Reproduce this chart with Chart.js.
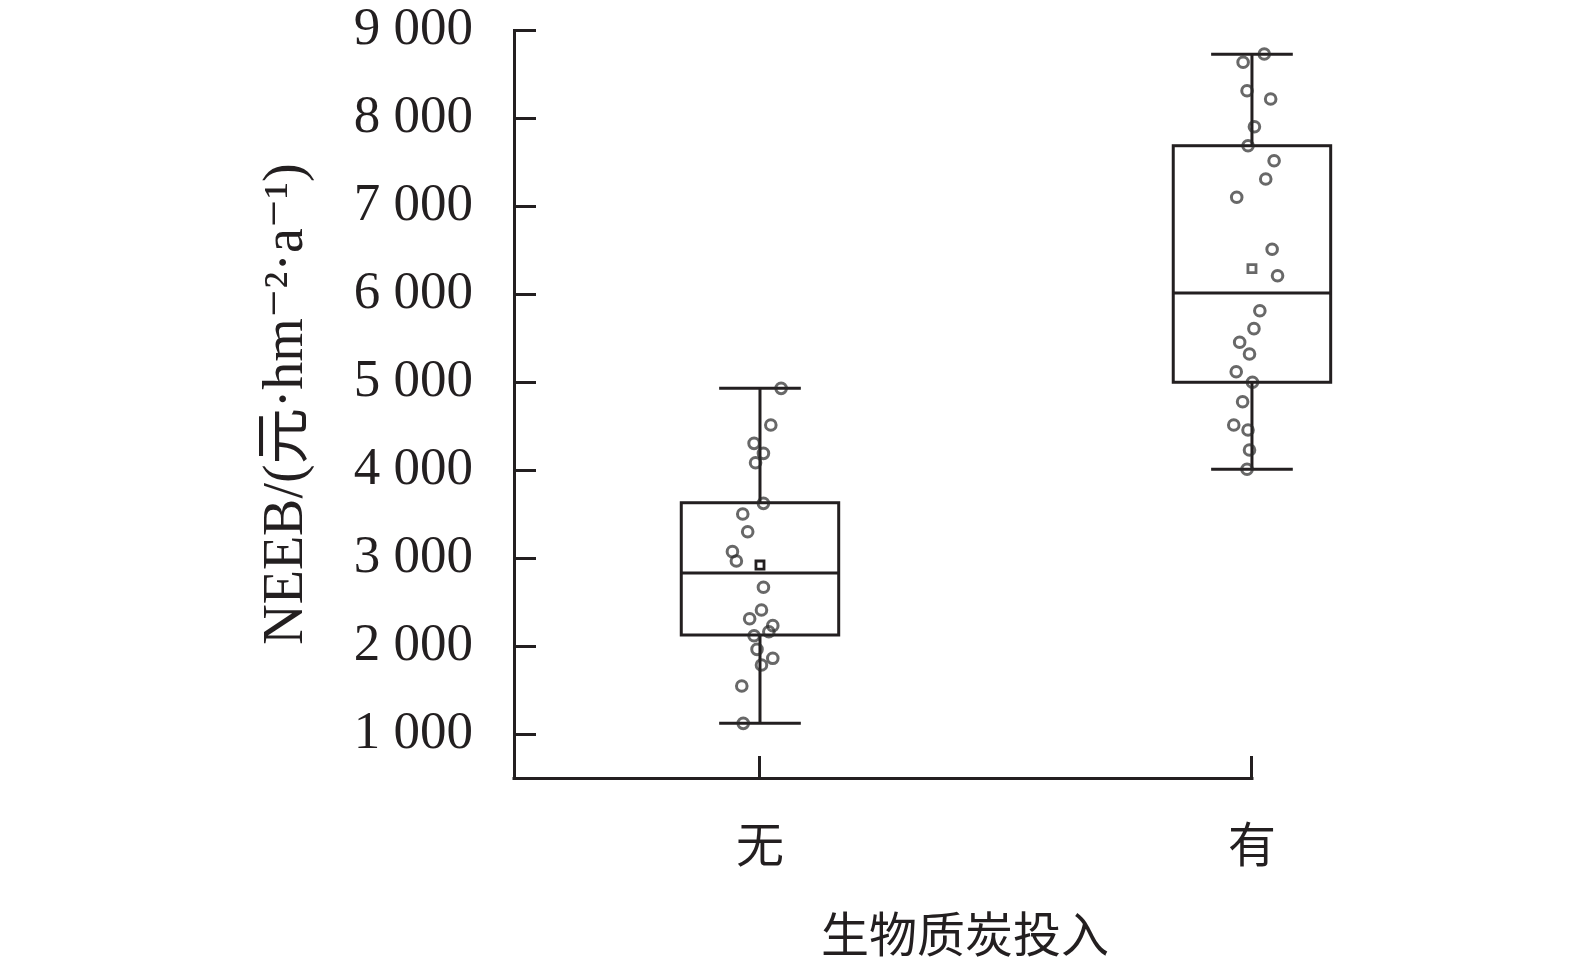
<!DOCTYPE html>
<html>
<head>
<meta charset="utf-8">
<script src="https://cdn.jsdelivr.net/npm/chart.js@4.4.1/dist/chart.umd.min.js"></script>
<style>html,body{margin:0;padding:0;background:#fff;}canvas{display:block;}</style>
</head>
<body>
<canvas id="c" width="1575" height="962"></canvas>
<script>
// ---------- data ----------
const categories = ['无', '有'];
const yTickValues = [1000, 2000, 3000, 4000, 5000, 6000, 7000, 8000, 9000];
const yTickLabels = ['1 000', '2 000', '3 000', '4 000', '5 000', '6 000', '7 000', '8 000', '9 000'];
const yAxisTitle = 'NEEB/(元·hm⁻²·a⁻¹)';
const xAxisTitle = '生物质炭投入';

// individual observations (NEEB) and their horizontal jitter (category units)
const valuesNone = [4928, 4511, 4303, 4189, 4083, 3621, 3500, 3299, 3072, 2966, 2667, 2409, 2310, 2231, 2162, 2117, 1962, 1860, 1784, 1545, 1121];
const jitterNone = [0.043, 0.022, -0.012, 0.007, -0.009, 0.007, -0.035, -0.025, -0.056, -0.048, 0.007, 0.003, -0.021, 0.026, 0.018, -0.012, -0.006, 0.026, 0.003, -0.037, -0.034];
const valuesWith = [8727, 8633, 8310, 8216, 7901, 7685, 7514, 7307, 7099, 6508, 6208, 5810, 5606, 5451, 5318, 5117, 4997, 4776, 4511, 4455, 4227, 4008];
const jitterWith = [0.025, -0.018, -0.010, 0.038, 0.005, -0.008, 0.045, 0.028, -0.031, 0.041, 0.052, 0.016, 0.004, -0.025, -0.005, -0.032, 0.001, -0.019, -0.037, -0.008, -0.005, -0.010];

// box statistics per category
const whiskerLow  = [1121, 4008];
const q1          = [2125, 4997];
const median      = [2830, 6011];
const q3          = [3628, 7685];
const whiskerHigh = [4928, 8724];
const means       = [2920, 6288];

// ---------- styles ----------
const INK = '#231f20';
const DOT = 'rgba(40,40,40,0.70)';
const SERIF = "'Liberation Serif', 'DejaVu Serif', 'Noto Sans CJK SC', serif";
const CJK = "'Noto Sans CJK SC', sans-serif";
const BOX_HALF = 0.16;
const CAP_HALF = 0.083;
const X_MIN = 0.5, X_AXIS_END = 2, X_AREA_MAX = 2.12;

const boxPlugin = {
  id: 'boxes',
  beforeDatasetsDraw(chart) {
    const {ctx, scales: {x, y}} = chart;
    ctx.save();
    ctx.strokeStyle = INK;
    ctx.lineWidth = 3;
    // x axis line, ending at the last category
    ctx.beginPath();
    ctx.moveTo(x.left - 1.5, x.top + 0.5);
    ctx.lineTo(x.getPixelForValue(X_AXIS_END) + 1.5, x.top + 0.5);
    ctx.stroke();
    categories.forEach((c, i) => {
      const pos = i + 1;
      const cx = x.getPixelForValue(pos);
      const l = x.getPixelForValue(pos - BOX_HALF), r = x.getPixelForValue(pos + BOX_HALF);
      const cl = x.getPixelForValue(pos - CAP_HALF), cr = x.getPixelForValue(pos + CAP_HALF);
      const yLo = y.getPixelForValue(whiskerLow[i]), yHi = y.getPixelForValue(whiskerHigh[i]);
      const yQ1 = y.getPixelForValue(q1[i]), yQ3 = y.getPixelForValue(q3[i]), yMed = y.getPixelForValue(median[i]);
      ctx.beginPath();
      ctx.moveTo(cx, yHi); ctx.lineTo(cx, yQ3);
      ctx.moveTo(cx, yQ1); ctx.lineTo(cx, yLo);
      ctx.moveTo(cl, yHi); ctx.lineTo(cr, yHi);
      ctx.moveTo(cl, yLo); ctx.lineTo(cr, yLo);
      ctx.stroke();
      ctx.strokeRect(l, yQ3, r - l, yQ1 - yQ3);
      ctx.beginPath();
      ctx.moveTo(l - 1, yMed); ctx.lineTo(r + 1, yMed);
      ctx.stroke();
    });
    ctx.restore();
  }
};

const xTitlePlugin = {
  id: 'xTitle',
  afterDraw(chart) {
    const {ctx, scales: {x}} = chart;
    ctx.save();
    ctx.fillStyle = INK;
    ctx.font = "48px " + CJK;
    ctx.textAlign = 'center';
    ctx.textBaseline = 'middle';
    ctx.fillText(xAxisTitle, x.getPixelForValue(X_AXIS_END) - 287, x.top + 156);
    ctx.restore();
  }
};

const pointsDs = (vals, jit, pos) => ({
  data: vals.map((v, k) => ({x: pos + jit[k], y: v})),
  pointStyle: 'circle',
  pointRadius: 5.3,
  pointBorderWidth: 3,
  pointBorderColor: DOT,
  pointBackgroundColor: 'rgba(0,0,0,0)',
  showLine: false,
  clip: false
});

const meanDs = (i, color) => ({
  data: [{x: i + 1, y: means[i]}],
  pointStyle: 'rect',
  pointRadius: 5.7,
  pointBorderWidth: 2.8,
  pointBorderColor: color,
  pointBackgroundColor: 'rgba(0,0,0,0)',
  showLine: false,
  clip: false
});

const gridOpts = {drawOnChartArea: false, drawTicks: true, tickLength: -22, tickWidth: 3, tickColor: INK};

new Chart(document.getElementById('c'), {
  type: 'scatter',
  data: {
    datasets: [
      pointsDs(valuesNone, jitterNone, 1),
      pointsDs(valuesWith, jitterWith, 2),
      meanDs(0, INK),
      meanDs(1, DOT)
    ]
  },
  options: {
    responsive: false,
    devicePixelRatio: 1,
    animation: false,
    layout: {padding: {top: 30, right: 264, bottom: 0, left: 0}},
    plugins: {legend: {display: false}, tooltip: {enabled: false}},
    scales: {
      x: {
        type: 'linear', min: X_MIN, max: X_AREA_MAX,
        afterBuildTicks: s => { s.ticks = categories.map((c, i) => ({value: i + 1})); },
        afterFit: s => { s.height = 184; s.paddingLeft = 0; s.paddingRight = 0; },
        ticks: {
          callback: (v) => categories[Math.round(v) - 1],
          font: {family: CJK, size: 48, lineHeight: 1.2},
          color: INK, padding: 59, maxRotation: 0, autoSkip: false
        },
        grid: gridOpts,
        border: {display: false}
      },
      y: {
        type: 'linear', min: 500, max: 9000,
        afterBuildTicks: s => { s.ticks = yTickValues.map(v => ({value: v})); },
        afterFit: s => { s.width = 514; s.paddingTop = 0; s.paddingBottom = 0; },
        ticks: {
          callback: (v) => yTickLabels[yTickValues.indexOf(v)],
          font: {family: SERIF, size: 53, lineHeight: 1},
          color: INK, padding: 63, autoSkip: false
        },
        grid: gridOpts,
        border: {display: true, color: INK, width: 3},
        title: {
          display: true, text: yAxisTitle, color: INK,
          font: {family: SERIF, size: 56, lineHeight: 1.2},
          padding: {top: 254, bottom: 0}
        }
      }
    }
  },
  plugins: [boxPlugin, xTitlePlugin]
});
</script>
</body>
</html>
